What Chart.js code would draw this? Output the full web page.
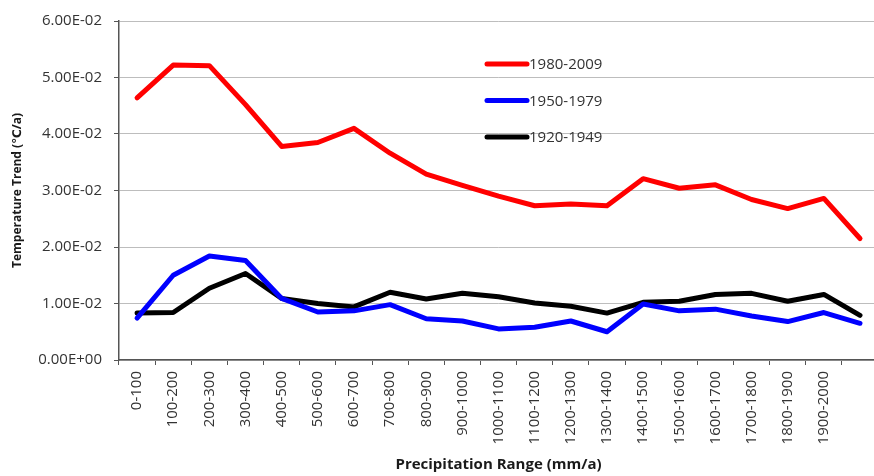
<!DOCTYPE html>
<html>
<head>
<meta charset="utf-8">
<script src="https://cdn.jsdelivr.net/npm/chart.js@4/dist/chart.umd.min.js"></script>
<style>
  html, body { margin: 0; padding: 0; background: #fff; overflow: hidden; }
  #wrap { width: 874px; height: 476px; overflow: hidden; position: relative; }
  canvas { display: block; }
</style>
</head>
<body>
<div id="wrap"><canvas id="c" width="884" height="476"></canvas></div>
<script>
// Precipitation bands (mm/a); the last band carries no label
const categories = ['0-100', '100-200', '200-300', '300-400', '400-500', '500-600', '600-700',
  '700-800', '800-900', '900-1000', '1000-1100', '1100-1200', '1200-1300', '1300-1400',
  '1400-1500', '1500-1600', '1600-1700', '1700-1800', '1800-1900', '1900-2000', ''];

const seriesNames = ['1980-2009', '1950-1979', '1920-1949'];

// Temperature trend (°C/a) per precipitation band
const trend1980 = [0.0464, 0.0522, 0.0521, 0.0452, 0.0378, 0.0385, 0.0410, 0.0366, 0.0329, 0.0309,
  0.0290, 0.0273, 0.0276, 0.0273, 0.0321, 0.0304, 0.0310, 0.0284, 0.0268, 0.0286, 0.0215];
const trend1950 = [0.0074, 0.0150, 0.0184, 0.0176, 0.0109, 0.0085, 0.0087, 0.0098, 0.0073, 0.0069,
  0.0055, 0.0058, 0.0069, 0.0050, 0.0099, 0.0087, 0.0090, 0.0078, 0.0068, 0.0084, 0.0065];
const trend1920 = [0.0083, 0.0084, 0.0127, 0.0153, 0.0109, 0.0100, 0.0094, 0.0120, 0.0108, 0.0118,
  0.0112, 0.0101, 0.0095, 0.0083, 0.0102, 0.0104, 0.0116, 0.0118, 0.0104, 0.0116, 0.0079];

const yTicks = { min: 0, max: 0.06, step: 0.01 };

const FONT = "'Open Sans', 'DejaVu Sans', sans-serif";

// Excel-style scientific notation, e.g. 6.00E-02
function sci(v) {
  if (Math.abs(v) < 1e-12) return '0.00E+00';
  const parts = v.toExponential(2).split('e');
  const n = parseInt(parts[1], 10);
  return parts[0] + 'E' + (n < 0 ? '-' : '+') + String(Math.abs(n)).padStart(2, '0');
}

// Legend drawn inside the plot area
const insideLegend = {
  id: 'insideLegend',
  afterDatasetsDraw(chart, args, opts) {
    const ctx = chart.ctx;
    ctx.save();
    chart.data.datasets.forEach((ds, i) => {
      const y = opts.top + i * opts.rowGap;
      ctx.strokeStyle = ds.borderColor;
      ctx.lineWidth = 5;
      ctx.lineCap = 'round';
      ctx.beginPath();
      ctx.moveTo(opts.left, y);
      ctx.lineTo(opts.left + opts.lineLen, y);
      ctx.stroke();
      ctx.fillStyle = '#333';
      ctx.font = '15px ' + FONT;
      ctx.textAlign = 'left';
      ctx.textBaseline = 'middle';
      ctx.fillText(ds.label, opts.left + opts.lineLen + 2, y + 1);
    });
    ctx.restore();
  }
};

const colors = ['#ff0000', '#0000ff', '#000000'];
const values = [trend1980, trend1950, trend1920];

new Chart(document.getElementById('c'), {
  type: 'line',
  data: {
    labels: categories,
    datasets: seriesNames.map((name, i) => ({
      label: name,
      data: values[i],
      borderColor: colors[i],
      backgroundColor: colors[i],
      borderWidth: 5,
      borderJoinStyle: 'round',
      borderCapStyle: 'round',
      pointRadius: 0,
      tension: 0,
      fill: false
    }))
  },
  options: {
    responsive: false,
    animation: false,
    layout: { padding: { top: 20, right: 0, left: 0, bottom: 0 } },
    plugins: {
      legend: { display: false },
      tooltip: { enabled: false },
      insideLegend: { left: 487, top: 64, rowGap: 36.5, lineLen: 40 }
    },
    scales: {
      x: {
        type: 'category',
        offset: true,
        grid: {
          offset: true,
          drawOnChartArea: false,
          drawTicks: true,
          tickLength: 5,
          color: '#555'
        },
        border: { display: true, color: '#555', width: 1.5 },
        ticks: {
          autoSkip: false,
          minRotation: 90,
          maxRotation: 90,
          padding: 6,
          color: '#333',
          font: { family: FONT, size: 15 }
        },
        title: {
          display: true,
          text: 'Precipitation Range (mm/a)',
          color: '#1a1a1a',
          font: { family: FONT, size: 15, weight: 'bold' },
          padding: { top: 0, bottom: 2 }
        },
        afterFit(scale) { scale.height = 116; }
      },
      y: {
        min: yTicks.min,
        max: yTicks.max,
        grid: {
          color: '#bdbdbd',
          lineWidth: 1,
          tickLength: 5,
          tickColor: '#555'
        },
        border: { display: true, color: '#555', width: 1.5 },
        ticks: {
          stepSize: yTicks.step,
          padding: 12,
          color: '#333',
          font: { family: FONT, size: 15 },
          callback: (v) => sci(v)
        },
        title: {
          display: true,
          text: 'Temperature Trend (℃/a)',
          color: '#1a1a1a',
          font: { family: FONT, size: 12, weight: 'bold' },
          padding: { top: 10, bottom: 0 }
        },
        afterFit(scale) { scale.width = 119; }
      }
    }
  },
  plugins: [insideLegend]
});
</script>
</body>
</html>
